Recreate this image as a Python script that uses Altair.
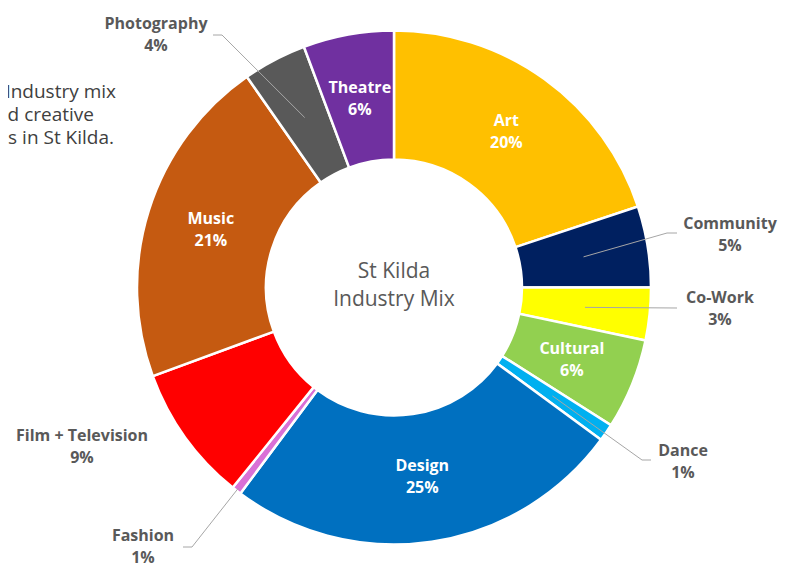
import math
import altair as alt
import pandas as pd

# ---- data ----
categories = ["Art", "Community", "Co-Work", "Cultural", "Dance", "Design",
              "Fashion", "Film + Television", "Music", "Photography", "Theatre"]
shares = [19.9, 5.1, 3.3, 5.7, 1.1, 25.1, 0.6, 8.6, 20.9, 4.0, 5.7]
pct_labels = ["20%", "5%", "3%", "6%", "1%", "25%", "1%", "9%", "21%", "4%", "6%"]
inside = ["Art", "Cultural", "Design", "Music", "Theatre"]
colors = ["#FFC000", "#002060", "#FFFF00", "#92D050", "#00B0F0", "#0070C0",
          "#DA70D6", "#FF0000", "#C55A11", "#595959", "#7030A0"]

center_title = ["St Kilda", "Industry Mix"]
side_text = ["Industry mix", "d creative", "s in St Kilda."]

# ---- layout (chart pixel coordinates) ----
CX, CY = 386, 279.5
R_OUT, R_IN = 257, 128
FONT = "Open Sans"
LH = 22          # label line height
DY2 = -11        # centre a two-line label on its anchor
# outside label anchors and leader elbows/ends
outside_layout = {
    "Photography": dict(lx=148, ly=27, ex=214, ey=27, tx=205, ty=27, r=192),
    "Community": dict(lx=722, ly=227, ex=659, ey=225, tx=669, ty=225, r=192),
    "Co-Work": dict(lx=712, ly=301, ex=669, ey=300, tx=669, ty=300, r=192),
    "Dance": dict(lx=675, ly=454, ex=634, ey=452, tx=643, ty=452, r=192),
    "Fashion": dict(lx=135, ly=539, ex=184, ey=539, tx=175, ty=539, r=254),
    "Film + Television": dict(lx=74, ly=439),
}

df = pd.DataFrame({
    "cat": categories,
    "value": shares,
    "idx": list(range(len(categories))),
    "lab": [[c, p] if c in inside else "" for c, p in zip(categories, pct_labels)],
})

# leader lines: start at slice mid-angle (from data), end at label
total = sum(shares)
cum = 0
lead_rows = []
out_rows = []
for c, v, p in zip(categories, shares, pct_labels):
    mid = (cum + v / 2) / total * 2 * math.pi
    cum += v
    if c in outside_layout:
        L = outside_layout[c]
        out_rows.append({"lx": L["lx"], "ly": L["ly"], "t": [c, p]})
        if "r" in L:
            sx = CX + L["r"] * math.sin(mid)
            sy = CY - L["r"] * math.cos(mid)
            lead_rows += [
                {"id": c, "s": 0, "x": sx, "y": sy},
                {"id": c, "s": 1, "x": L["ex"], "y": L["ey"]},
                {"id": c, "s": 2, "x": L["tx"], "y": L["ty"]},
            ]
lead_df = pd.DataFrame(lead_rows)
out_df = pd.DataFrame(out_rows)

color_scale = alt.Scale(domain=categories, range=colors)

base = alt.Chart(df).encode(
    theta=alt.Theta("value:Q", stack=True),
    order=alt.Order("idx:Q"),
    x=alt.value(CX),
    y=alt.value(CY),
)

arcs = base.mark_arc(outerRadius=R_OUT, innerRadius=R_IN, stroke="white",
                     strokeWidth=2.5).encode(
    color=alt.Color("cat:N", scale=color_scale, legend=None)
)

in_labels = base.mark_text(radius=192, font=FONT, fontSize=16, fontWeight="bold",
                           color="white", lineHeight=LH, align="center",
                           baseline="middle", dy=DY2).encode(text="lab")

leaders = alt.Chart(lead_df).mark_line(color="#A6A6A6", strokeWidth=1).encode(
    x=alt.X("x:Q", scale=None),
    y=alt.Y("y:Q", scale=None),
    detail="id:N",
    order="s:Q",
)

out_labels = alt.Chart(out_df).mark_text(font=FONT, fontSize=16, fontWeight="bold",
                                         color="#595959", lineHeight=LH,
                                         align="center", baseline="middle",
                                         dy=DY2).encode(
    x=alt.X("lx:Q", scale=None),
    y=alt.Y("ly:Q", scale=None),
    text="t",
)

center = alt.Chart(pd.DataFrame({"t": [center_title]})).mark_text(
    font=FONT, fontSize=21, color="#595959", lineHeight=28,
    align="center", baseline="middle").encode(
    x=alt.value(CX), y=alt.value(CY - 16), text="t")

side = alt.Chart(pd.DataFrame({"t": side_text, "i": [0, 1, 2]})).mark_text(
    font=FONT, fontSize=19, color="#404040", align="right",
    baseline="middle").encode(
    x=alt.X("rx:Q", scale=None), y=alt.Y("ry:Q", scale=None), text="t"
).transform_calculate(
    rx="datum.i == 1 ? 86 : (datum.i == 0 ? 108 : 106)",
    ry="84 + datum.i * 23",
)

chart = alt.layer(arcs, in_labels, leaders, out_labels, center, side).properties(
    width=780, height=555,
    autosize=alt.AutoSizeParams(type="none"),
    padding=0,
).configure_view(stroke=None)

chart.save("out.html", embed_options={"renderer": "svg", "actions": False})
